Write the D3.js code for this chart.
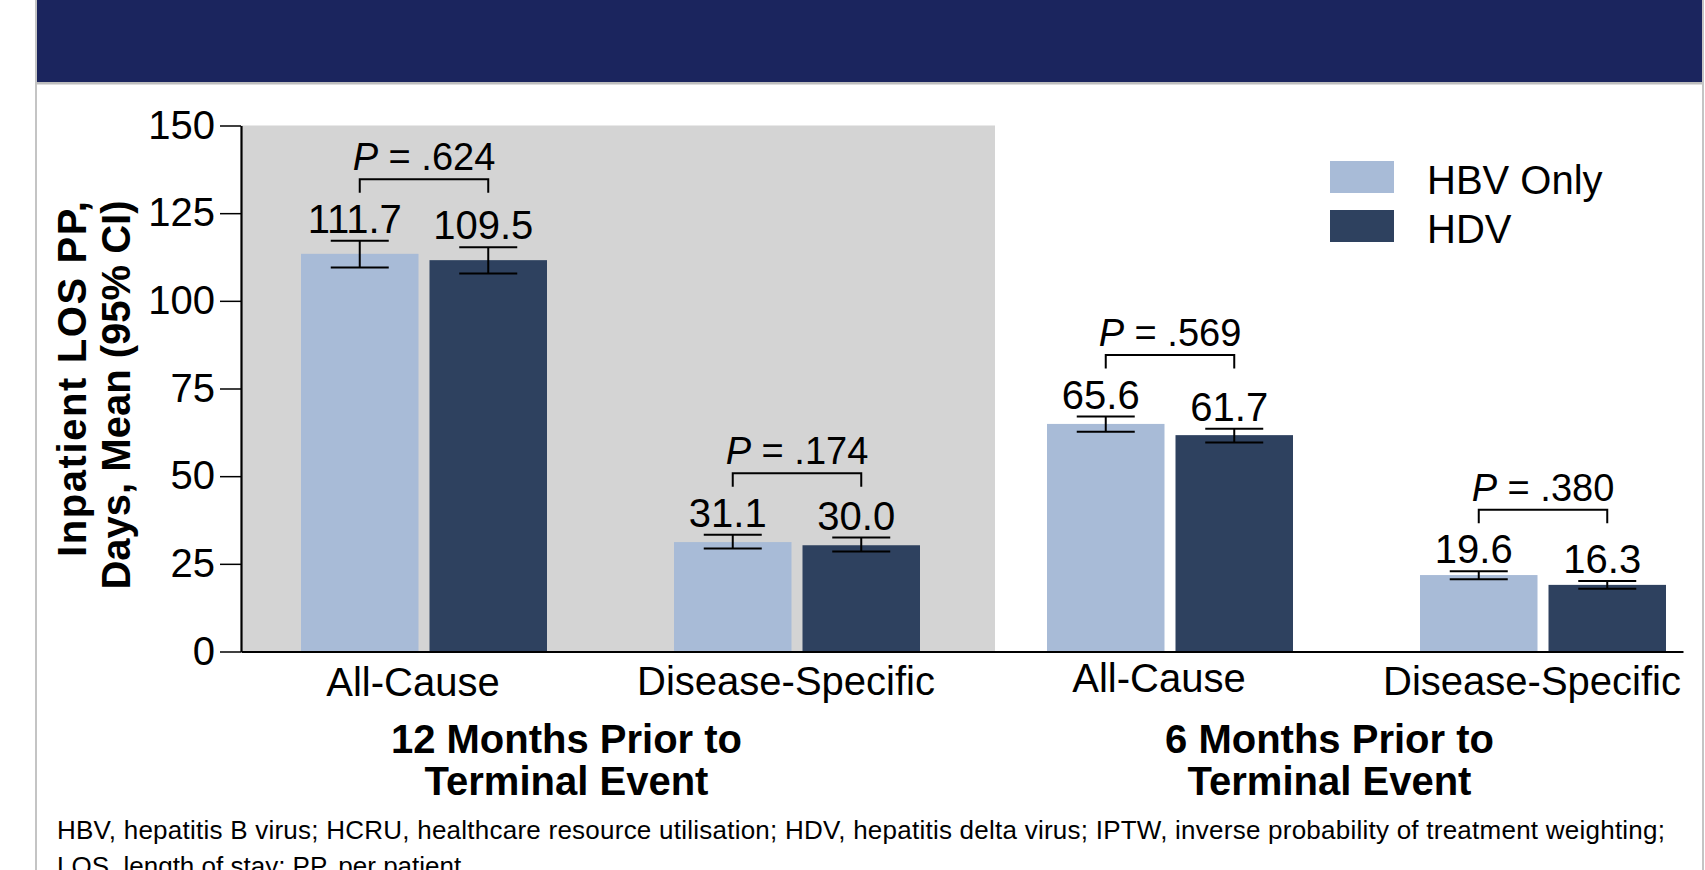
<!DOCTYPE html>
<html>
<head>
<meta charset="utf-8">
<script src="https://cdn.jsdelivr.net/npm/d3@7/dist/d3.min.js"></script>
<style>
  html, body { margin: 0; padding: 0; background: #fff; }
  svg { display: block; font-family: "Liberation Sans", Arial, Helvetica, sans-serif; }
</style>
</head>
<body>
<svg id="chart" width="1705" height="870"></svg>
<script>
// ---------------- data ----------------
const categoryKeys = ["12-AC", "12-DS", "6-AC", "6-DS"];
const categoryLabels = ["All-Cause", "Disease-Specific", "All-Cause", "Disease-Specific"];
const periodLabels = [["12 Months Prior to", "Terminal Event"], ["6 Months Prior to", "Terminal Event"]];
const seriesNames = ["HBV Only", "HDV"];
const hbvMean = [113.4, 31.2, 64.9, 21.8];
const hdvMean = [111.6, 30.3, 61.7, 19.0];
const hbvLow  = [109.5, 29.4, 62.7, 20.6];
const hbvHigh = [117.1, 33.3, 67.0, 22.9];
const hdvLow  = [107.8, 28.5, 59.6, 17.9];
const hdvHigh = [115.3, 32.5, 63.5, 20.1];
const hbvLabel = ["111.7", "31.1", "65.6", "19.6"];
const hdvLabel = ["109.5", "30.0", "61.7", "16.3"];
const pValues = [".624", ".174", ".569", ".380"];
const yTicks = [0, 25, 50, 75, 100, 125, 150];
const yTitle = ["Inpatient LOS PP,", "Days, Mean (95% CI)"];
const footnote = ["HBV, hepatitis B virus; HCRU, healthcare resource utilisation; HDV, hepatitis delta virus; IPTW, inverse probability of treatment weighting;",
                  "LOS, length of stay; PP, per patient."];

// ---------------- style ----------------
const colors = { "HBV Only": "#A8BBD7", "HDV": "#2E415F" };
const navy = "#1B255E";
const shade = "#D4D4D4";

const svg = d3.select("#chart");

// frame & header
svg.append("rect").attr("x", 0).attr("y", 0).attr("width", 1705).attr("height", 870).attr("fill", "#fff");
svg.append("rect").attr("x", 37).attr("y", 0).attr("width", 1665).attr("height", 82).attr("fill", navy);
svg.append("rect").attr("x", 37).attr("y", 82).attr("width", 1665).attr("height", 2.5).attr("fill", "#BDBDBD");
svg.append("rect").attr("x", 35).attr("y", 0).attr("width", 2).attr("height", 870).attr("fill", "#C4C4C4");
svg.append("rect").attr("x", 1702).attr("y", 0).attr("width", 2).attr("height", 870).attr("fill", "#C4C4C4");

// scales
const axisX = 241, axisEnd = 1683;
const y = d3.scaleLinear().domain([0, 150]).range([651.5, 125.5]);
const x0 = d3.scaleBand().domain(categoryKeys).range([301, 1666]).paddingInner(0.3405).paddingOuter(0);
const x1 = d3.scaleBand().domain(seriesNames).range([0, x0.bandwidth()]).paddingInner(0.0856).paddingOuter(0);

// gray shaded 12-month region
svg.append("rect")
  .attr("x", axisX).attr("y", y(150))
  .attr("width", x0("6-AC") - 52 - axisX)
  .attr("height", y(0) - y(150))
  .attr("fill", shade);

// bars
const rows = categoryKeys.map((k, i) => ({
  key: k, i,
  vals: [
    { s: "HBV Only", v: hbvMean[i], lo: hbvLow[i], hi: hbvHigh[i], lab: hbvLabel[i] },
    { s: "HDV", v: hdvMean[i], lo: hdvLow[i], hi: hdvHigh[i], lab: hdvLabel[i] }
  ]
}));

const g = svg.append("g");
const cat = g.selectAll("g.cat").data(rows).join("g")
  .attr("class", "cat")
  .attr("transform", d => `translate(${x0(d.key)},0)`);

cat.selectAll("rect").data(d => d.vals).join("rect")
  .attr("x", d => x1(d.s))
  .attr("y", d => y(d.v))
  .attr("width", x1.bandwidth())
  .attr("height", d => y(0) - y(d.v))
  .attr("fill", d => colors[d.s]);

// error bars
const capHalf = 29;
const eb = cat.selectAll("g.eb").data(d => d.vals).join("g").attr("class", "eb");
eb.append("line")
  .attr("x1", d => x1(d.s) + x1.bandwidth() / 2).attr("x2", d => x1(d.s) + x1.bandwidth() / 2)
  .attr("y1", d => y(d.lo)).attr("y2", d => y(d.hi))
  .attr("stroke", "#000").attr("stroke-width", 2);
["lo", "hi"].forEach(k => {
  eb.append("line")
    .attr("x1", d => x1(d.s) + x1.bandwidth() / 2 - capHalf)
    .attr("x2", d => x1(d.s) + x1.bandwidth() / 2 + capHalf)
    .attr("y1", d => y(d[k])).attr("y2", d => y(d[k]))
    .attr("stroke", "#000").attr("stroke-width", 2);
});

// value labels
cat.selectAll("text.val").data(d => d.vals).join("text")
  .attr("class", "val")
  .attr("x", d => x1(d.s) + x1.bandwidth() / 2 - 5)
  .attr("y", d => y(d.hi) - 8)
  .attr("text-anchor", "middle")
  .attr("font-size", 40)
  .attr("fill", "#000")
  .text(d => d.lab);

// P-value brackets
cat.each(function(d) {
  const sel = d3.select(this);
  const cx = d.vals.map(v => x1(v.s) + x1.bandwidth() / 2);
  const top = Math.min(...d.vals.map(v => y(v.hi) - 8));
  const by = top - 53.5;
  sel.append("path")
    .attr("d", `M${cx[0]},${by + 13.5}V${by}H${cx[1]}V${by + 13.5}`)
    .attr("fill", "none").attr("stroke", "#000").attr("stroke-width", 2);
  const t = sel.append("text")
    .attr("x", (cx[0] + cx[1]) / 2).attr("y", by - 9)
    .attr("text-anchor", "middle").attr("font-size", 38)
    .attr("fill", "#000");
  t.append("tspan").attr("font-style", "italic").text("P");
  t.append("tspan").text(" = " + pValues[d.i]);
});

// y axis
const yAxis = d3.axisLeft(y).tickValues(yTicks).tickSize(21).tickSizeOuter(0).tickPadding(5);
const ya = svg.append("g").attr("transform", `translate(${axisX},0)`).call(yAxis);
ya.select(".domain").attr("stroke", "#000").attr("stroke-width", 2.2);
ya.selectAll(".tick line").attr("stroke", "#000").attr("stroke-width", 1.5);
ya.selectAll(".tick text").attr("font-size", 40).attr("fill", "#000")
  .attr("font-family", "'Liberation Sans', Arial, sans-serif");

// x axis line
const xa = d3.axisBottom(d3.scaleLinear().domain([0, 1]).range([axisX, axisEnd])).tickValues([]).tickSizeOuter(0);
svg.append("g").attr("transform", `translate(0,${y(0)})`).call(xa)
  .select(".domain").attr("stroke", "#000").attr("stroke-width", 2.2);

// category labels
const catDy = [0, -1, -4, -1];
svg.selectAll("text.cat").data(categoryKeys).join("text")
  .attr("class", "cat")
  .attr("x", d => x0(d) + x0.bandwidth() / 2 - 11)
  .attr("y", (d, i) => 696 + catDy[i])
  .attr("text-anchor", "middle")
  .attr("font-size", 40)
  .attr("fill", "#000")
  .text((d, i) => categoryLabels[i]);

// period labels
const periodDx = [-44, -27];
periodLabels.forEach((lines, p) => {
  const a = categoryKeys[p * 2], b = categoryKeys[p * 2 + 1];
  const cx = (x0(a) + x0(b) + x0.bandwidth()) / 2 + periodDx[p];
  lines.forEach((ln, j) => {
    svg.append("text")
      .attr("x", cx).attr("y", 752.5 + j * 42.5)
      .attr("text-anchor", "middle")
      .attr("font-size", 40).attr("font-weight", "bold")
      .attr("fill", "#000")
      .text(ln);
  });
});

// y-axis title
const titleCenters = [379, 395];
const titleBase = [86, 130];
const titleLen = [356, null];
yTitle.forEach((ln, j) => {
  const t = svg.append("text")
    .attr("transform", `translate(${titleBase[j]},${titleCenters[j]}) rotate(-90)`)
    .attr("text-anchor", "middle")
    .attr("font-size", 40).attr("font-weight", "bold")
    .attr("fill", "#000")
    .text(ln);
  if (titleLen[j]) t.attr("textLength", titleLen[j]).attr("lengthAdjust", "spacing");
});

// legend
const leg = svg.append("g");
seriesNames.forEach((s, i) => {
  leg.append("rect").attr("x", 1330).attr("y", 161 + i * 49).attr("width", 64).attr("height", 32).attr("fill", colors[s]);
  leg.append("text").attr("x", 1427).attr("y", 194 + i * 48.5)
    .attr("font-size", 40).attr("fill", "#000").text(s);
});

// footnote
footnote.forEach((ln, j) => {
  const t = svg.append("text").attr("x", 57).attr("y", 839.3 + j * 36)
    .attr("font-size", 26).attr("fill", "#000").text(ln);
  if (j === 0) t.attr("textLength", 1608).attr("lengthAdjust", "spacing");
});
</script>
</body>
</html>
